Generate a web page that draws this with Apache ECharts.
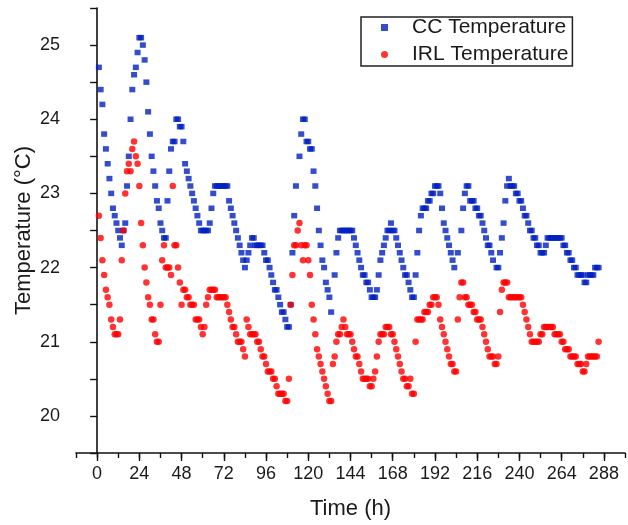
<!DOCTYPE html>
<html>
<head>
<meta charset="utf-8">
<script src="https://cdn.jsdelivr.net/npm/echarts@6/dist/echarts.min.js"></script>
<style>html,body{margin:0;padding:0;background:#fff}#c{width:628px;height:525px}</style>
</head>
<body>
<div id="c"></div>
<script>
// hourly readings, first reading at hour 1
var startHour = 1;
var ccTemp = [
 24.7,24.4,24.2,23.8,23.6,23.4,23.2,23.0,22.8,22.7,
 22.6,22.5,22.4,22.3,22.5,22.6,23.1,23.5,24.0,24.4,
 24.6,24.7,24.9,25.1,25.1,25.0,24.8,24.5,24.1,23.8,
 23.5,23.3,23.1,22.9,22.8,22.6,22.5,22.4,22.4,22.9,
 23.3,23.6,23.7,23.7,24.0,24.0,23.9,23.9,23.7,23.4,
 23.3,23.2,23.1,23.0,22.9,22.8,22.7,22.6,22.5,22.5,
 22.5,22.5,22.5,22.6,22.8,23.0,23.1,23.1,23.1,23.1,
 23.1,23.1,23.1,23.1,22.9,22.8,22.7,22.6,22.5,22.4,
 22.3,22.2,22.1,22.0,22.1,22.2,22.3,22.4,22.4,22.3,
 22.3,22.3,22.3,22.3,22.2,22.1,22.1,22.0,21.9,21.8,
 21.7,21.7,21.6,21.5,21.4,21.4,21.3,21.2,21.2,21.5,
 22.2,22.7,23.1,null,23.5,23.8,24.0,24.0,23.7,23.7,
 23.6,23.6,23.3,23.1,22.8,22.5,22.3,22.1,22.0,21.8,
 21.7,21.6,21.4,null,21.9,22.2,22.4,22.5,22.5,22.5,
 22.5,22.5,22.5,22.5,22.5,22.4,22.3,22.2,22.1,22.0,
 21.9,21.9,21.8,21.8,21.7,21.6,21.6,21.6,21.7,21.9,
 22.1,22.2,22.3,22.4,22.5,22.5,22.6,22.5,22.5,22.4,
 22.3,22.2,22.1,22.0,21.9,21.9,21.8,21.7,21.6,21.6,
 21.9,22.2,22.5,22.7,22.8,22.8,22.8,22.9,22.9,23.0,
 23.0,23.1,23.1,23.1,23.0,22.8,22.6,22.5,22.4,22.3,
 22.2,22.1,22.0,null,22.2,null,22.5,22.8,23.0,23.1,
 23.1,22.9,22.9,22.9,22.8,22.8,22.7,22.7,22.6,22.5,
 22.4,22.3,22.3,22.2,22.1,null,22.0,22.0,22.2,22.4,
 22.6,22.9,23.1,23.2,23.1,23.1,23.1,23.0,23.0,22.9,
 22.9,22.8,22.7,22.7,22.6,22.5,22.5,22.4,22.4,22.3,
 22.3,22.2,22.2,22.2,22.3,22.4,22.4,22.4,22.4,22.4,
 22.4,22.4,22.4,22.4,22.3,22.3,22.2,22.2,22.1,22.1,
 22.0,22.0,21.9,21.9,21.9,21.9,21.8,21.8,21.9,21.9,
 21.9,21.9,22.0,22.0,22.0
];
var irlTemp = [
 22.7,22.4,22.1,21.9,21.7,21.6,21.5,21.3,21.2,21.1,
 21.1,21.1,21.3,22.1,22.5,23.0,23.3,23.4,23.3,23.6,
 23.7,23.5,23.4,23.1,22.6,22.3,22.0,21.8,21.6,21.5,
 21.3,21.3,21.1,21.0,21.0,21.5,22.1,22.3,22.0,22.0,
 22.0,21.9,23.1,22.3,22.3,22.0,21.8,21.5,21.7,21.7,
 21.6,21.6,21.5,21.5,21.5,21.3,21.3,21.3,21.2,21.1,
 21.2,21.5,21.6,21.7,21.7,21.7,21.7,21.6,21.6,21.6,
 21.6,21.6,21.6,21.5,21.4,21.3,21.2,21.2,21.1,21.0,
 21.0,21.0,20.9,20.8,21.3,21.2,21.1,21.1,21.1,21.1,
 21.0,21.0,20.9,20.8,20.8,20.7,20.6,20.6,20.6,20.5,
 20.5,20.4,20.3,20.3,20.3,20.3,20.2,20.2,20.5,21.5,
 21.9,22.3,22.3,22.5,22.6,22.3,22.1,22.3,22.3,22.1,
 21.9,21.5,21.3,21.1,20.9,20.8,20.7,20.6,20.5,20.4,
 20.3,20.2,20.2,20.7,20.8,21.0,21.1,21.1,21.2,21.3,
 21.2,21.1,21.1,21.1,21.0,20.9,20.8,20.8,20.7,20.6,
 20.5,20.5,20.5,20.5,20.4,20.4,20.5,20.6,20.8,21.0,
 21.1,21.1,21.1,21.2,21.2,21.2,21.1,21.1,21.0,20.9,
 20.8,20.7,20.6,20.5,20.5,20.4,20.4,20.5,20.3,20.3,
 21.0,21.3,21.3,21.3,21.3,21.4,21.4,21.4,21.5,21.5,
 21.6,21.6,21.6,21.5,21.3,21.2,21.1,21.0,20.9,20.8,
 20.7,20.7,20.6,20.6,21.3,21.6,21.8,21.8,21.6,21.6,
 21.5,21.5,21.5,21.4,21.4,21.3,21.3,21.3,21.2,21.1,
 21.0,20.9,20.8,20.8,20.8,20.7,20.7,20.8,21.4,21.7,
 21.8,21.8,21.8,21.6,21.6,21.6,21.6,21.6,21.6,21.6,
 21.6,21.5,21.4,21.3,21.2,21.1,21.0,21.0,21.0,21.0,
 21.0,21.1,21.1,21.2,21.2,21.2,21.2,21.2,21.2,21.1,
 21.1,21.1,21.1,21.0,21.0,20.9,20.9,20.9,20.8,20.8,
 20.8,20.8,20.7,20.7,20.7,20.6,20.6,20.7,20.8,20.8,
 20.8,20.8,20.8,20.8,21.0
];
var seriesNames = ['CC Temperature', 'IRL Temperature'];
var xMajorTicks = [0, 24, 48, 72, 96, 120, 144, 168, 192, 216, 240, 264, 288];
var yLabelTicks = [20, 21, 22, 23, 24, 25];

function toPoints(arr) {
  var out = [];
  for (var i = 0; i < arr.length; i++) {
    if (arr[i] !== null) out.push([startHour + i, arr[i]]);
  }
  return out;
}

var FONT = "'Liberation Sans', Arial, sans-serif";
var TXT = '#1a1a1a';
var BLUE = '#0020C0';
var RED = '#FF0000';
var chart = echarts.init(document.getElementById('c'), null, {renderer: 'canvas'});
chart.setOption({
  animation: false,
  backgroundColor: '#ffffff',
  grid: {left: 76, top: 8, width: 557, height: 445, containLabel: false},
  legend: {
    orient: 'vertical',
    left: 361, top: 17,
    padding: [0, 4, 1, 20],
    itemGap: 6,
    itemWidth: 7, itemHeight: 7,
    borderColor: '#222', borderWidth: 1.5,
    textStyle: {fontFamily: FONT, fontSize: 21, color: TXT, padding: [0, 0, 0, 19]},
    data: [
      {name: seriesNames[0], icon: 'rect', itemStyle: {color: BLUE}},
      {name: seriesNames[1], icon: 'circle', itemStyle: {color: RED}}
    ]
  },
  xAxis: [{
    type: 'value', min: -12, max: 300, interval: 12,
    name: 'Time (h)', nameLocation: 'middle', nameGap: 45, nameMoveOverlap: false,
    nameTextStyle: {fontFamily: FONT, fontSize: 22, color: TXT},
    axisLine: {lineStyle: {color: '#111', width: 1.6}},
    axisTick: {length: 5, lineStyle: {color: '#111', width: 1.4}},
    axisLabel: {
      margin: 12, fontFamily: FONT, fontSize: 18, color: TXT,
      formatter: function (v) { return xMajorTicks.indexOf(v) >= 0 ? String(v) : ''; }
    },
    splitLine: {show: false}
  }, {
    type: 'value', min: -12, max: 300, position: 'bottom', offset: 0,
    axisLine: {show: false},
    axisTick: {show: true, length: 8, customValues: xMajorTicks, lineStyle: {color: '#111', width: 1.4}},
    axisLabel: {show: false},
    splitLine: {show: false}
  }],
  yAxis: {
    type: 'value', min: 19.5, max: 25.5, interval: 0.5,
    name: 'Temperature (°C)', nameLocation: 'middle', nameGap: 41, nameRotate: 90, nameMoveOverlap: false,
    nameTextStyle: {fontFamily: FONT, fontSize: 22, color: TXT},
    axisLine: {show: true, lineStyle: {color: '#111', width: 1.6}},
    axisTick: {show: true, length: 7, lineStyle: {color: '#111', width: 1.4}},
    axisLabel: {
      margin: 16, fontFamily: FONT, fontSize: 18, color: TXT,
      formatter: function (v) { return yLabelTicks.indexOf(v) >= 0 ? String(v) : ''; }
    },
    splitLine: {show: false}
  },
  series: [{
    name: seriesNames[0], type: 'scatter', xAxisIndex: 0,
    symbol: 'rect', symbolSize: [6, 5.5],
    itemStyle: {color: BLUE},
    data: toPoints(ccTemp)
  }, {
    name: seriesNames[1], type: 'scatter', xAxisIndex: 0,
    symbol: 'circle', symbolSize: 6.5,
    itemStyle: {color: RED},
    data: toPoints(irlTemp)
  }]
});
</script>
</body>
</html>
